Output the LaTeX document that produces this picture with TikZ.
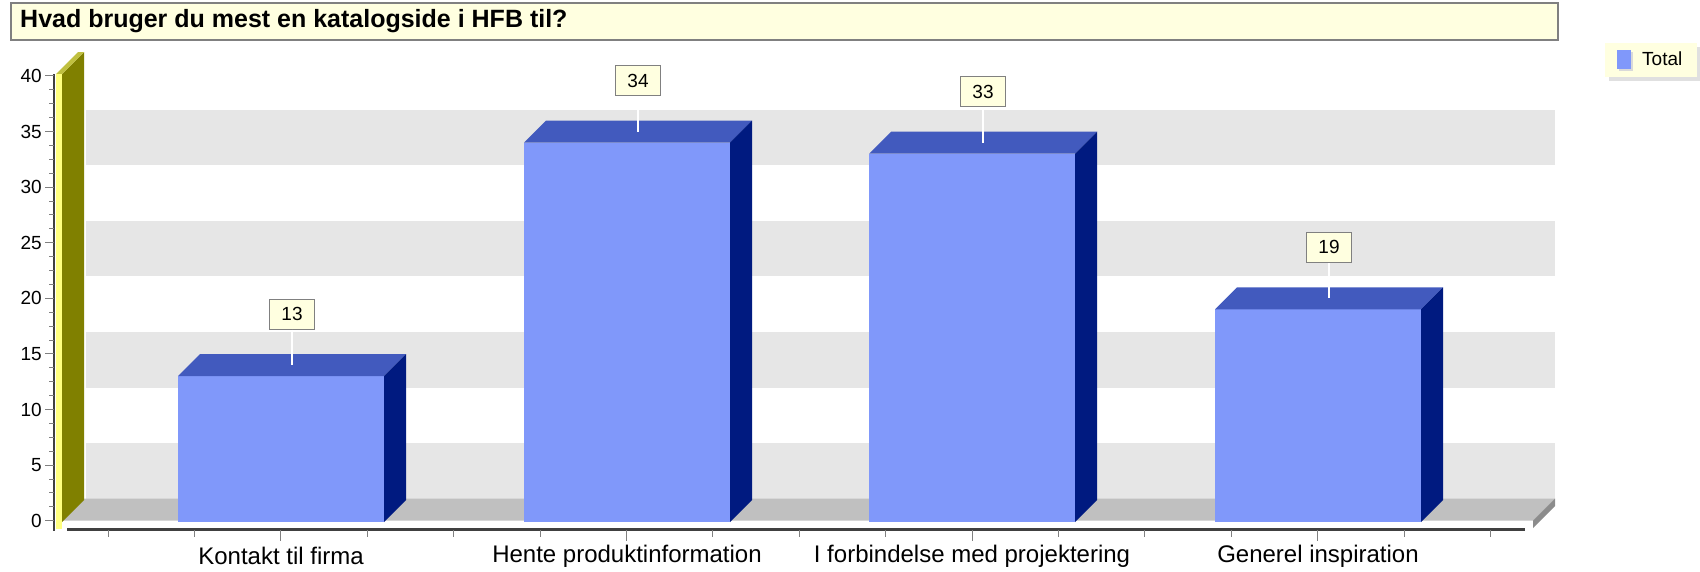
\documentclass[tikz,border=0pt]{standalone}
\usepackage{fontspec}
\setmainfont{Liberation Sans}
\usetikzlibrary{calc}

\definecolor{notefill}{RGB}{255,255,224}
\definecolor{boxgray}{RGB}{128,128,128}
\definecolor{wallgray}{RGB}{230,230,230}
\definecolor{floorgray}{RGB}{192,192,192}
\definecolor{floorside}{RGB}{140,140,140}
\definecolor{olive}{RGB}{128,128,0}
\definecolor{olivecap}{RGB}{192,192,64}
\definecolor{wallyellow}{RGB}{255,255,128}
\definecolor{axisgray}{RGB}{64,64,64}
\definecolor{barfront}{RGB}{128,152,250}
\definecolor{bartop}{RGB}{66,90,190}
\definecolor{barside}{RGB}{0,26,128}

\tikzset{
  titletext/.style={anchor=west, inner sep=0pt, font=\bfseries\fontsize{25}{25}\selectfont},
  ylab/.style={anchor=east, inner sep=0pt, font=\fontsize{19}{19}\selectfont},
  catlab/.style={inner sep=0pt, font=\fontsize{24}{24}\selectfont},
  valbox/.style={draw=boxgray, fill=notefill, line width=1.2, minimum width=45, minimum height=30, inner sep=0pt, font=\fontsize{19}{19}\selectfont},
  leader/.style={white, line width=1.5},
  axisline/.style={axisgray, line width=2.5},
  tickline/.style={boxgray, line width=1},
}

% one 3d block: name, front centre x, value
\def\chartbar(#1:#2:#3){
  \fill[barfront] ({#2-103},522) rectangle ({#2+103},{520.7-11.12*#3});
  \fill[bartop] ({#2-103},{520.7-11.12*#3}) -- ({#2+103},{520.7-11.12*#3}) -- ({#2+125},{498.7-11.12*#3}) -- ({#2-81},{498.7-11.12*#3}) -- cycle;
  \fill[barside] ({#2+103},522) -- ({#2+103},{520.7-11.12*#3}) -- ({#2+125},{498.7-11.12*#3}) -- ({#2+125},500) -- cycle;
  \coordinate (#1top) at ({#2+11},{509.7-11.12*#3});
  \node[valbox] (#1val) at ({#2+11},{458.7-11.12*#3}) {#3};
  \draw[leader] (#1val) -- (#1top);
}

\begin{document}
\begin{tikzpicture}[x=1pt,y=-1pt]
			\useasboundingbox (0,0) rectangle (1700,571);
			%%%%% START %%%%%
			
			\draw[draw=boxgray, fill=notefill, line width=1.5] (11,3) rectangle (1558,40);
			\node[titletext] (title) at (20,21.5) {Hvad bruger du mest en katalogside i HFB til?};
			
			% legend
			\fill[black!12] (1609,47) rectangle (1700,81);
			\fill[notefill] (1605,43) rectangle (1697,77);
			\fill[black!15] (1619,52) rectangle (1633,71);
			\fill[barfront] (1617,50) rectangle (1631,69);
			\node[anchor=west, inner sep=0pt, font=\fontsize{19}{19}\selectfont] (legend) at (1642,59) {Total};
			
			% back wall
			\fill[wallgray] (86,443.1) rectangle (1555,498.7);
			\fill[wallgray] (86,331.9) rectangle (1555,387.5);
			\fill[wallgray] (86,220.7) rectangle (1555,276.3);
			\fill[wallgray] (86,109.5) rectangle (1555,165.1);
			
			% floor
			\fill[floorgray] (84,498.7) -- (1555,498.7) -- (1533,520.7) -- (62,520.7) -- cycle;
			\fill[floorside] (1533,520.7) -- (1555,498.7) -- (1555,506) -- (1533,528) -- cycle;
			
			% left wall
			\fill[olive] (62,74) -- (84,52) -- (84,500) -- (62,522) -- cycle;
			\fill[olivecap] (56,74) -- (62,74) -- (84,52) -- (78,52) -- cycle;
			\fill[wallyellow] (56,74) rectangle (62,529);
			
			% y axis
			\draw[axisline] (54,74) -- (54,531);
			\foreach \v in {0,5,...,40}{
				\draw[tickline] (45,{520.7-11.12*\v}) -- (54,{520.7-11.12*\v});
				\node[ylab] (y\v) at (42,{520.7-11.12*\v}) {\v};
			}
			\foreach \v in {1.25,2.5,...,38.75}
				\draw[tickline] (49,{520.7-11.12*\v}) -- (54,{520.7-11.12*\v});
			
			% x axis
			\draw[axisline, line width=3] (67,529) -- (1525,529);
			\foreach \k in {0,...,16}
				\draw[tickline] ({108+86.4*\k},530) -- ({108+86.4*\k},537);
			\foreach \k in {2,6,10,14}
				\draw[tickline] ({108+86.4*\k},530) -- ({108+86.4*\k},541);
			
			\node[catlab] (cat1) at (281,556) {Kontakt til firma};
			\node[catlab] (cat2) at (627,556) {Hente produktinformation};
			\node[catlab] (cat3) at (972,556) {I forbindelse med projektering};
			\node[catlab] (cat4) at (1318,556) {Generel inspiration};
			
			% bars
			\chartbar(kontakt:281:13)
			\chartbar(hente:627:34)
			\chartbar(projekt:972:33)
			\chartbar(inspiration:1318:19)
			
			%%%%% END %%%%%
		\end{tikzpicture}
\end{document}
